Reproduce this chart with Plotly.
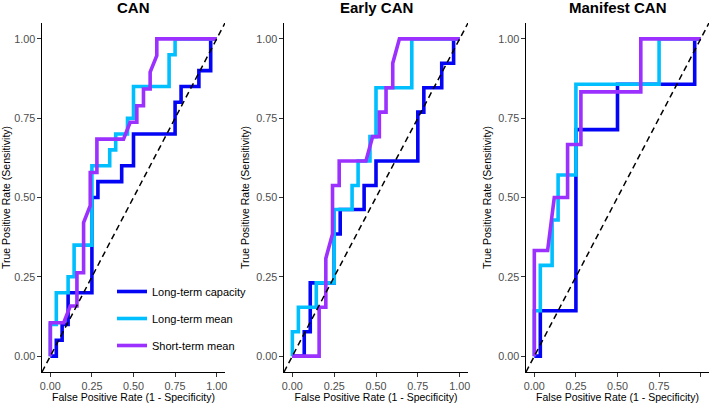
import plotly.graph_objects as go

# ---------------- data ----------------
panel_titles = ["CAN", "Early CAN", "Manifest CAN"]
series_names = ["Long-term capacity", "Long-term mean", "Short-term mean"]
series_colors = ["#0505F5", "#00BFFF", "#9B30FF"]
tick_vals = [0.0, 0.25, 0.5, 0.75, 1.0]
tick_text = ["0.00", "0.25", "0.50", "0.75", "1.00"]

# CAN
can_cap_fpr = [0, 0.036, 0.036, 0.071, 0.071, 0.107, 0.107, 0.25, 0.25, 0.286, 0.286, 0.429, 0.429, 0.5, 0.5, 0.75, 0.75, 0.786, 0.786, 0.893, 0.893, 0.964, 0.964, 1]
can_cap_tpr = [0, 0, 0.05, 0.05, 0.10, 0.10, 0.20, 0.20, 0.50, 0.50, 0.55, 0.55, 0.60, 0.60, 0.70, 0.70, 0.80, 0.80, 0.85, 0.85, 0.90, 0.90, 1.0, 1.0]
can_ltm_fpr = [0, 0, 0.036, 0.036, 0.107, 0.107, 0.143, 0.143, 0.25, 0.25, 0.357, 0.357, 0.393, 0.393, 0.464, 0.464, 0.5, 0.5, 0.714, 0.714, 0.75, 0.75, 1]
can_ltm_tpr = [0, 0.10, 0.10, 0.20, 0.20, 0.25, 0.25, 0.35, 0.35, 0.60, 0.60, 0.65, 0.65, 0.70, 0.70, 0.75, 0.75, 0.85, 0.85, 0.95, 0.95, 1.0, 1.0]
can_stm_fpr = [0, 0, 0.08, 0.12, 0.16, 0.16, 0.20, 0.20, 0.24, 0.24, 0.28, 0.28, 0.44, 0.48, 0.52, 0.52, 0.56, 0.56, 0.60, 0.60, 0.64, 0.64, 1]
can_stm_tpr = [0, 0.105, 0.105, 0.158, 0.158, 0.263, 0.263, 0.421, 0.474, 0.579, 0.579, 0.684, 0.684, 0.737, 0.737, 0.789, 0.789, 0.842, 0.842, 0.895, 0.947, 1.0, 1.0]

# Early CAN
early_cap_fpr = [0, 0.071, 0.071, 0.107, 0.107, 0.25, 0.25, 0.286, 0.286, 0.429, 0.429, 0.5, 0.5, 0.75, 0.75, 0.786, 0.786, 0.893, 0.893, 0.964, 0.964, 1]
early_cap_tpr = [0, 0, 0.077, 0.077, 0.231, 0.231, 0.385, 0.385, 0.462, 0.462, 0.538, 0.538, 0.615, 0.615, 0.769, 0.769, 0.846, 0.846, 0.923, 0.923, 1, 1]
early_ltm_fpr = [0, 0, 0.036, 0.036, 0.143, 0.143, 0.25, 0.25, 0.357, 0.357, 0.393, 0.393, 0.464, 0.464, 0.5, 0.5, 0.714, 0.714, 1]
early_ltm_tpr = [0, 0.077, 0.077, 0.154, 0.154, 0.231, 0.231, 0.462, 0.462, 0.538, 0.538, 0.615, 0.615, 0.692, 0.692, 0.846, 0.846, 1, 1]
early_stm_fpr = [0, 0.16, 0.16, 0.20, 0.20, 0.24, 0.24, 0.28, 0.28, 0.44, 0.48, 0.52, 0.52, 0.56, 0.56, 0.60, 0.60, 0.64, 1]
early_stm_tpr = [0, 0, 0.154, 0.154, 0.308, 0.385, 0.538, 0.538, 0.615, 0.615, 0.692, 0.692, 0.769, 0.769, 0.846, 0.846, 0.923, 1, 1]

# Manifest CAN
man_cap_fpr = [0, 0.036, 0.036, 0.25, 0.25, 0.5, 0.5, 0.964, 0.964, 1]
man_cap_tpr = [0, 0, 0.143, 0.143, 0.714, 0.714, 0.857, 0.857, 1, 1]
man_ltm_fpr = [0, 0, 0.036, 0.036, 0.107, 0.107, 0.143, 0.143, 0.25, 0.25, 0.75, 0.75, 1]
man_ltm_tpr = [0, 0.143, 0.143, 0.286, 0.286, 0.429, 0.429, 0.571, 0.571, 0.857, 0.857, 1, 1]
man_stm_fpr = [0, 0, 0.08, 0.12, 0.20, 0.20, 0.28, 0.28, 0.64, 0.64, 1]
man_stm_tpr = [0, 0.333, 0.333, 0.5, 0.5, 0.667, 0.667, 0.833, 0.833, 1, 1]

diag_x = [-0.05, 1.05]
diag_y = [-0.05, 1.05]

panels = [
    [(can_cap_fpr, can_cap_tpr), (can_ltm_fpr, can_ltm_tpr), (can_stm_fpr, can_stm_tpr)],
    [(early_cap_fpr, early_cap_tpr), (early_ltm_fpr, early_ltm_tpr), (early_stm_fpr, early_stm_tpr)],
    [(man_cap_fpr, man_cap_tpr), (man_ltm_fpr, man_ltm_tpr), (man_stm_fpr, man_stm_tpr)],
]

# ---------------- figure ----------------
W, H = 711, 403
FONT = "Liberation Sans, Arial, Helvetica, sans-serif"
x_domains = [(42, 225), (284, 468), (526, 709)]
y_top, y_bot = 23, 372

fig = go.Figure()
for p, series in enumerate(panels):
    xa = "x" if p == 0 else f"x{p+1}"
    ya = "y" if p == 0 else f"y{p+1}"
    for s, (fx, ty) in enumerate(series):
        fig.add_trace(go.Scatter(
            x=fx, y=ty, mode="lines", xaxis=xa, yaxis=ya,
            name=series_names[s], legendgroup=series_names[s],
            showlegend=(p == 0),
            line=dict(color=series_colors[s], width=3.6),
        ))
    fig.add_trace(go.Scatter(
        x=diag_x, y=diag_y, mode="lines", xaxis=xa, yaxis=ya,
        showlegend=False, hoverinfo="skip",
        line=dict(color="black", width=1.5, dash="6px,4px"),
    ))

layout = dict(
    width=W, height=H,
    margin=dict(l=0, r=0, t=0, b=0),
    paper_bgcolor="white", plot_bgcolor="white",
    font=dict(family=FONT, size=11, color="black"),
    legend=dict(
        x=112 / W, y=1 - 277 / H, xanchor="left", yanchor="top",
        bgcolor="rgba(0,0,0,0)", font=dict(size=11, color="black"),
        tracegroupgap=8, itemwidth=30,
    ),
    showlegend=True,
)

annotations = []
for p in range(3):
    sx = "" if p == 0 else str(p + 1)
    x0, x1 = x_domains[p]
    layout[f"xaxis{sx}"] = dict(
        domain=[x0 / W, x1 / W], anchor=f"y{sx}", range=[-0.05, 1.05],
        showgrid=False, zeroline=False, showline=True, linecolor="black", linewidth=1.3,
        ticks="outside", ticklen=3.5, tickwidth=1.1, tickcolor="#333333",
        tickvals=tick_vals, ticktext=tick_text,
        tickfont=dict(size=10.8, color="#4D4D4D", family=FONT),
        title=dict(text="False Positive Rate (1 - Specificity)", font=dict(size=10.5, color="black"), standoff=2),
        automargin=False,
    )
    layout[f"yaxis{sx}"] = dict(
        domain=[1 - y_bot / H, 1 - y_top / H], anchor=f"x{sx}", range=[-0.05, 1.05],
        showgrid=False, zeroline=False, showline=True, linecolor="black", linewidth=1.3,
        ticks="outside", ticklen=3.5, tickwidth=1.1, tickcolor="#333333",
        tickvals=tick_vals, ticktext=tick_text,
        tickfont=dict(size=10.8, color="#4D4D4D", family=FONT),
        title=dict(text="True Positive Rate (Sensitivity)", font=dict(size=10.5, color="black"), standoff=4),
        automargin=False,
    )
    annotations.append(dict(
        text="<b>" + panel_titles[p] + "</b>", xref=f"x{sx} domain", x=0.5,
        yref="paper", y=1 - 8 / H, xanchor="center", yanchor="middle",
        showarrow=False, font=dict(size=15, color="black", family=FONT),
    ))
layout["annotations"] = annotations

fig.update_layout(**layout)
fig.write_html("out.html")
